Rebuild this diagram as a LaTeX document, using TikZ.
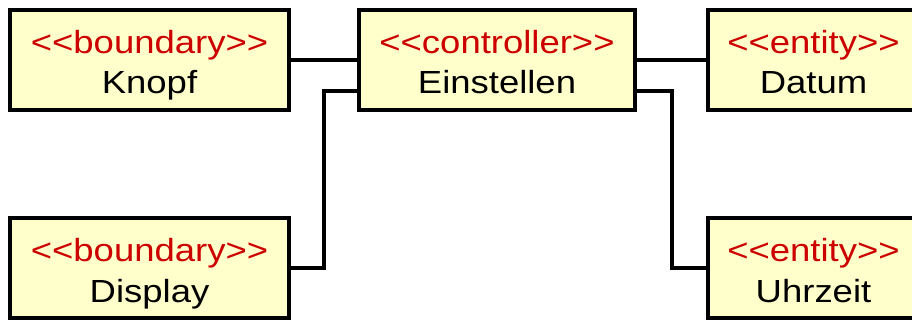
\documentclass[tikz,border=0pt]{standalone}
\usepackage{fontspec}
\setmainfont[FakeStretch=1.14, Ligatures=TeXOff]{Liberation Sans}
\definecolor{umlfill}{HTML}{FFFFCC}
\definecolor{umlred}{HTML}{CC0000}
\tikzset{
  classbox/.style={draw=black, line width=4pt, fill=umlfill, inner sep=0pt,
    minimum width=#1, minimum height=100pt},
  stereo/.style={anchor=base, inner sep=0pt, text=umlred,
    font=\fontsize{32}{38}\selectfont},
  cname/.style={anchor=base, inner sep=0pt, text=black,
    font=\fontsize{32}{38}\selectfont},
  conn/.style={draw=black, line width=4pt},
}
\begin{document}
\begin{tikzpicture}[x=1pt, y=-1pt]
  \useasboundingbox (0,0) rectangle (912,320);
  \clip (0,0) rectangle (912,320);

  % class boxes
  \node[classbox=279pt] (knopf)    at (149.5,60)  {};
  \node[classbox=276pt] (einst)    at (497,60)    {};
  \node[classbox=211pt] (datum)    at (813.5,60)  {};
  \node[classbox=279pt] (display)  at (149.5,268) {};
  \node[classbox=211pt] (uhrzeit)  at (813.5,268) {};

  % stereotypes and names
  \node[stereo] (knopf-s)   at ([yshift=6.5pt]knopf.center)   {<{}<boundary>{}>};
  \node[cname]  (knopf-n)   at ([yshift=-34pt]knopf.center)   {Knopf};
  \node[stereo] (einst-s)   at ([yshift=6.5pt]einst.center)   {<{}<controller>{}>};
  \node[cname]  (einst-n)   at ([yshift=-34pt]einst.center)   {Einstellen};
  \node[stereo] (datum-s)   at ([yshift=6.5pt]datum.center)   {<{}<entity>{}>};
  \node[cname]  (datum-n)   at ([yshift=-34pt]datum.center)   {Datum};
  \node[stereo] (display-s) at ([yshift=6.5pt]display.center) {<{}<boundary>{}>};
  \node[cname]  (display-n) at ([yshift=-34pt]display.center) {Display};
  \node[stereo] (uhrzeit-s) at ([yshift=6.5pt]uhrzeit.center) {<{}<entity>{}>};
  \node[cname]  (uhrzeit-n) at ([yshift=-34pt]uhrzeit.center) {Uhrzeit};

  % bend points of the routed links
  \coordinate (bendL) at (324,91);
  \coordinate (bendR) at (672,268);

  % links
  \draw[conn] (knopf.east) -- (einst.west);
  \draw[conn] (einst.east) -- (datum.west);
  \draw[conn] (display.east) -| (bendL) -- ([yshift=-31pt]einst.west);
  \draw[conn] ([yshift=-31pt]einst.east) -| (bendR) -- (uhrzeit.west);
\end{tikzpicture}
\end{document}
